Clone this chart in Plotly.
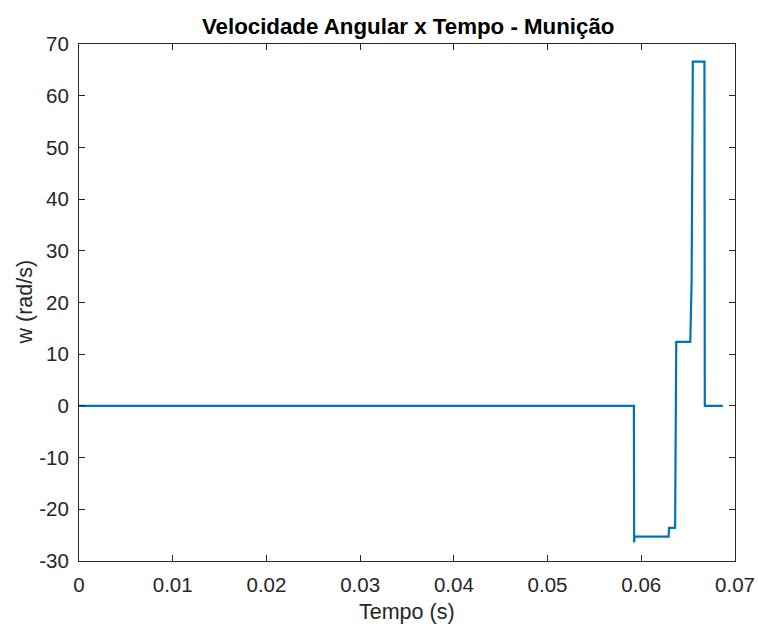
import plotly.graph_objects as go

# Angular velocity of the projectile over time (step-like response)
tempo = [0.0, 0.05921, 0.05924, 0.05928, 0.06292, 0.06296, 0.06361, 0.06373,
         0.06523, 0.06530, 0.06537, 0.06550, 0.06674, 0.06678, 0.06871]
w = [0.0, 0.0, -26.4, -25.3, -25.3, -23.6, -23.6, 12.4,
     12.4, 23.5, 24.0, 66.6, 66.6, 0.0, 0.0]

x_ticks = [0, 0.01, 0.02, 0.03, 0.04, 0.05, 0.06, 0.07]
x_tick_text = ["0", "0.01", "0.02", "0.03", "0.04", "0.05", "0.06", "0.07"]
y_ticks = [-30, -20, -10, 0, 10, 20, 30, 40, 50, 60, 70]
y_tick_text = ["-30", "-20", "-10", "0", "10", "20", "30", "40", "50", "60", "70"]

axis_color = "#262626"
font_family = "Liberation Sans, Arial, sans-serif"
label_font = dict(size=21.5, color=axis_color, family=font_family)

fig = go.Figure()
fig.add_trace(go.Scatter(
    x=tempo, y=w, mode="lines",
    line=dict(color="#0072BD", width=2.2),
    showlegend=False,
))

common_axis = dict(
    showgrid=False, zeroline=False, showline=True, linecolor=axis_color,
    linewidth=1, mirror="allticks", ticks="inside", ticklen=6,
    tickcolor=axis_color, automargin=False, ticklabelstandoff=5,
    tickfont=dict(size=20.5, color=axis_color, family=font_family),
)

fig.update_layout(
    width=758, height=626,
    margin=dict(l=79, r=22.5, t=44, b=65),
    paper_bgcolor="white", plot_bgcolor="white",
    title=dict(text="<b>Velocidade Angular x Tempo - Munição</b>",
               x=0.5385, xanchor="center", y=0.958, yanchor="middle",
               font=dict(size=22.3, color="black", family=font_family)),
    xaxis=dict(range=[0, 0.07], tickvals=x_ticks, ticktext=x_tick_text,
               **common_axis),
    yaxis=dict(range=[-30, 70], tickvals=y_ticks, ticktext=y_tick_text,
               **common_axis),
    annotations=[
        dict(text="Tempo (s)", xref="paper", yref="paper", x=0.5, y=-0.0986,
             xanchor="center", yanchor="middle", showarrow=False, font=label_font),
        dict(text="w (rad/s)", xref="paper", yref="paper", x=-0.0838, y=0.5,
             xanchor="center", yanchor="middle", textangle=-90,
             showarrow=False, font=label_font),
    ],
)

fig.write_html("out.html")
